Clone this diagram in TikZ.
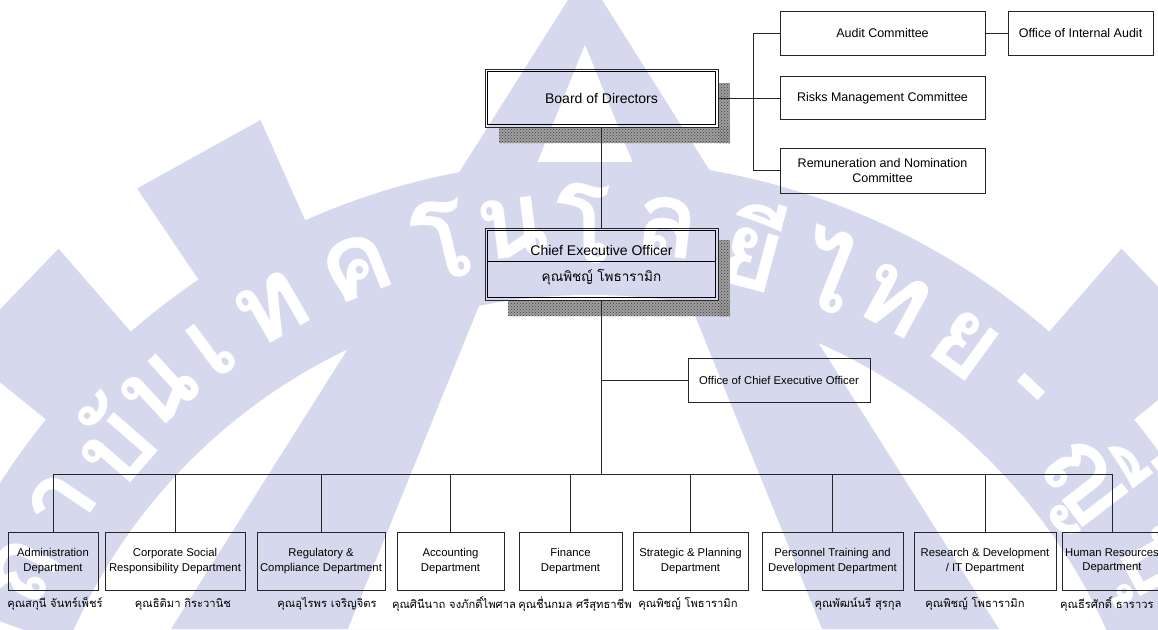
\documentclass[tikz,border=0pt]{standalone}
\usepackage{fontspec}
\setmainfont{Liberation Sans}
\newfontfamily\thaifont[Script=Thai]{Loma}
\usetikzlibrary{patterns,calc}
\definecolor{wm}{RGB}{214,217,237}

\begin{document}
\begin{tikzpicture}[x=1pt,y=-1pt,
  box/.style={draw=black!85, line width=0.85pt, inner sep=0pt, align=center},
  topbox/.style={box, minimum height=43.5pt, font=\fontsize{12.5}{15}\selectfont},
  dept/.style={box, minimum height=58pt, font=\fontsize{11.3}{14.5}\selectfont},
  person/.style={font=\thaifont\fontsize{11.2}{13}\selectfont, inner sep=0pt},
  link/.style={draw=black!85, line width=0.85pt},
  shadowfill/.style={fill=black!38},
  shadowdots/.style={pattern=crosshatch dots, pattern color=black!75},
  wmletter/.style={text=white, font=\thaifont\bfseries\fontsize{105}{105}\selectfont, inner sep=0pt}
]
\useasboundingbox (0,0) rectangle (1158,629);
\fill[white] (0,0) rectangle (1158,629);

% ---- institute watermark: toothed ring with lettering round a triangular emblem ----
\def\outerA{(585,-27) -- (171,629) -- (999,629) -- cycle}
\def\innerA{(585,45) -- (348,629) -- (822,629) -- cycle}
\begin{scope}
  \clip (0,0) rectangle (1158,629);
  \coordinate (wc) at (590,860);
  \fill[wm] (wc) circle[radius=700];
  \foreach \c in {27,44,119,136,153}{
    \fill[wm] ($(wc)+(-\c+5:690)$) -- ($(wc)+(-\c+5:810)$)
           -- ($(wc)+(-\c-5:810)$) -- ($(wc)+(-\c-5:690)$) -- cycle;
  }
  \fill[white] (wc) circle[radius=565];
  \fill[wm] \outerA;
  \begin{scope}
    \clip (wc) circle[radius=565];
    \fill[white] \innerA;
  \end{scope}
  \begin{scope}
    \clip (0,0) rectangle (1158,161);
    \fill[white] \innerA;
  \end{scope}
  \foreach \ch/\a in {ส/160, ถ/153, า/146, บั/139, น/132.5, เ/126.5, ท/120, ค/111.5,
                      โ/103.5, น/97, โ/90.5, ล/83, ยี/75, ไ/68, ท/61.5, ย/54,
                      -/47, ญี่/37.5, ปุ่/28, น/19}{
    \node[wmletter, rotate=\a-90] at ($(wc)+(-\a:637)$) {\ch};
  }
\end{scope}

% ---- Board of Directors (double frame with textured shadow) ----
\foreach \s in {shadowfill,shadowdots}{
  \path[\s] (499,127) rectangle (730,143);
  \path[\s] (718,83) rectangle (730,143);
}
\node[box, minimum width=233pt, minimum height=58pt] (board) at (601.5,98) {};
\draw[line width=1.1pt] ([shift={(3,3)}]board.north west) rectangle ([shift={(-3,-3)}]board.south east);
\node[font=\fontsize{14}{16}\selectfont] (boardtxt) at (board.center) {Board of Directors};

% ---- Committees ----
\node[topbox, minimum width=205pt] (audit) at (882.5,33.5) {Audit Committee};
\node[topbox, minimum width=145pt] (oia) at (1080.5,33.5) {Office of Internal Audit};
\node[topbox, minimum width=205pt] (risks) at (882.5,98) {Risks Management Committee};
\node[topbox, minimum width=205pt, minimum height=45pt] (remun) at (882.5,170.5) {Remuneration and Nomination\\Committee};
\coordinate (bk) at (753,98);

\draw[link] (board.east) -- (risks.west);
\draw[link] (audit.west) -- (audit.west -| bk) -- (remun.west -| bk) -- (remun.west);
\draw[link] (audit.east) -- (oia.west);

% ---- Chief Executive Officer ----
\foreach \s in {shadowfill,shadowdots}{
  \path[\s] (508,300) rectangle (730,316);
  \path[\s] (718,240) rectangle (730,316);
}
\node[box, minimum width=233pt, minimum height=72pt] (ceo) at (601.5,264) {};
\draw[line width=1.1pt] ([shift={(3,3)}]ceo.north west) rectangle ([shift={(-3,-3)}]ceo.south east);
\draw[line width=1pt] ([shift={(3,34)}]ceo.north west) -- ([shift={(-3,34)}]ceo.north east);
\node[font=\fontsize{14}{16}\selectfont] (ceotitle) at (601.5,250) {Chief Executive Officer};
\node[person, font=\thaifont\fontsize{13.5}{16}\selectfont] (ceoname) at (601.5,277) {คุณพิชญ์ โพธารามิก};

\draw[link] (board.south) -- (ceo.north);

% ---- Office of the CEO ----
\node[box, minimum width=182pt, minimum height=44pt, font=\fontsize{11.3}{14}\selectfont] (oceo) at (779,380) {Office of Chief Executive Officer};
\coordinate (bus) at (601.5,474);
\draw[link] (ceo.south) -- (bus);
\draw[link] (oceo.west -| bus) -- (oceo.west);

% ---- Departments ----
\node[dept, minimum width=90pt]  (d1) at (53,561)    {Administration\\Department};
\node[dept, minimum width=140pt] (d2) at (175,561)   {Corporate Social\\Responsibility Department};
\node[dept, minimum width=128pt] (d3) at (321,561)   {Regulatory \&\\Compliance Department};
\node[dept, minimum width=107pt] (d4) at (450.5,561) {Accounting\\Department};
\node[dept, minimum width=103pt] (d5) at (570.5,561) {Finance\\Department};
\node[dept, minimum width=115pt] (d6) at (690.5,561) {Strategic \& Planning\\Department};
\node[dept, minimum width=141pt] (d7) at (832.5,561) {Personnel Training and\\Development Department};
\node[dept, minimum width=142pt] (d8) at (985,561)   {Research \& Development\\/ IT Department};
\node[dept, minimum width=100pt] (d9) at (1112,561)  {Human Resources\\Department};

\draw[link] (d1.north) -- (d1.north |- bus) -- (d9.north |- bus) -- (d9.north);
\foreach \d in {d2,d3,d4,d5,d6,d7,d8}{
  \draw[link] (\d.north) -- (\d.north |- bus);
}

% ---- Department heads ----
\node[person] (n1) at (55,604)   {คุณสกุนี จันทร์เพ็ชร์};
\node[person] (n2) at (183,604)  {คุณธิติมา กิระวานิช};
\node[person] (n3) at (327,604)  {คุณอุไรพร เจริญจิตร};
\node[person] (n4) at (454,604)  {คุณศินีนาถ จงภักดิ์ไพศาล};
\node[person] (n5) at (575,604)  {คุณชื่นกมล ศรีสุทธาชีพ};
\node[person] (n6) at (688,604)  {คุณพิชญ์ โพธารามิก};
\node[person] (n7) at (858,604)  {คุณพัฒน์นรี สุรกุล};
\node[person] (n8) at (975,604)  {คุณพิชญ์ โพธารามิก};
\node[person, anchor=west] (n9) at (1060,604) {คุณธีรศักดิ์ ธาราวร};
\end{tikzpicture}
\end{document}
